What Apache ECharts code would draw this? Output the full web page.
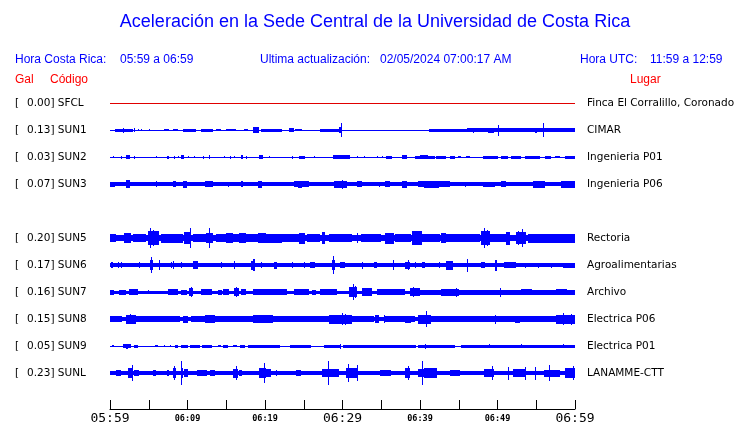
<!DOCTYPE html>
<html><head><meta charset="utf-8">
<script src="https://cdn.jsdelivr.net/npm/echarts@6/dist/echarts.min.js"></script>
<style>html,body{margin:0;padding:0;background:#fff}#c{width:740px;height:423px}</style>
</head><body><div id="c"></div>
<script>
// ---------- DATA ----------
const titleText = 'Aceleración en la Sede Central de la Universidad de Costa Rica';
const localLabel = 'Hora Costa Rica:';
const localRange = '05:59 a 06:59';
const updLabel = 'Ultima actualización:';
const updValue = '02/05/2024 07:00:17 AM';
const utcLabel = 'Hora UTC:';
const utcRange = '11:59 a 12:59';
const colGal = 'Gal', colCode = 'Código', colPlace = 'Lugar';

// minutes after 05:59 -> tick label
const tickMinutes = [0, 10, 20, 30, 40, 50, 60];
const tickLabels = ['05:59', '06:09', '06:19', '06:29', '06:39', '06:49', '06:59'];

const stations = ['SFCL', 'SUN1', 'SUN2', 'SUN3', 'SUN4', 'SUN5', 'SUN6', 'SUN7', 'SUN8', 'SUN9', 'SUNL'];
const gal = [0.00, 0.13, 0.03, 0.07, null, 0.20, 0.17, 0.16, 0.15, 0.05, 0.23];
const places = ['Finca El Corralillo, Coronado', 'CIMAR', 'Ingenieria P01', 'Ingenieria P06', null,
  'Rectoria', 'Agroalimentarias', 'Archivo', 'Electrica P06', 'Electrica P01', 'LANAMME-CTT'];
// background (noise) half-amplitude of each trace, display units
const baseAmp = [0.5, 0.5, 0.5, 2, null, 3, 2, 1.5, 2, 0.5, 2];

// bursts: [startMinute, endMinute, halfAmplitude]
const burstsSFCL = [];
const burstsSUN1 = [[0.6,3.0,1.5],[1.7,1.7,2.5],[3.1,3.1,2],[3.6,3.6,1],[4.0,4.0,1],[5.0,5.0,1],[7.0,7.6,1.2],[8.1,8.8,1.3],
  [9.4,11.1,1.5],[11.7,13.3,1.5],[13.7,14.3,1],[15.0,16.3,1.3],[17.3,17.8,1],[18.5,19.2,3],[19.5,22.2,1.5],[23.1,23.7,2],
  [23.9,24.8,1],[27.1,29.5,1.5],[29.5,29.9,3],[29.8,29.8,7],[41.2,46,1.5],[46,60,2],[46.8,46.8,2.5],[48.8,49.5,2.5],
  [50.0,50.0,5.5],[54.8,55.1,2.5],[55.9,55.9,7]];
const burstsSUN2 = [[0.4,0.4,1],[1.4,1.4,1.5],[2.1,2.6,2],[3.1,3.1,1.5],[5.9,5.9,1],[7.4,7.6,1.5],[8.3,8.3,1.5],[8.8,8.8,1],
  [9.2,9.6,2],[10.1,10.1,1],[10.8,10.8,1],[12.0,12.0,1.5],[12.8,12.8,2],[14.7,14.7,1],[15.5,15.5,1.5],[16.0,16.0,1],
  [16.9,17.2,2],[17.5,17.5,1.5],[19.2,19.7,2],[20.5,20.5,1],[23.5,23.5,1.5],[24.4,25.2,1.5],[26.3,26.3,1],[28.8,31.0,2],
  [31.9,31.9,1],[32.8,32.8,1],[34.5,34.5,1],[35.1,35.1,1],[35.6,36.4,1.5],[37.7,38.3,2],[39.4,41.9,1.5],[40.0,41.0,2],
  [42.1,43.4,1.5],[43.9,44.5,1.5],[44.9,45.3,1],[45.9,46.5,1],[48.1,50.1,1.5],[50.5,51.4,1.5],[51.7,53.0,1.5],
  [53.5,55.5,1.5],[56.1,56.9,1.5],[57.4,58.1,1],[58.7,60,1.5]];
const burstsSUN3 = [[0,0.6,2.5],[2.1,2.6,4],[5.9,5.9,3],[8.1,8.5,3],[9.4,9.9,3.5],[12.3,13.3,3],[15.2,15.2,2.5],[16.9,17.2,3],
  [19.1,19.6,3.5],[23.7,25.7,3],[24.2,24.8,3.5],[28.9,30.6,3.5],[29.9,29.9,4.5],[31.9,32.5,3],[34.7,34.7,2.5],
  [35.5,36.1,3],[37.7,38.3,3.5],[39.7,43.9,3],[40.5,42.5,3.5],[45.8,45.8,2.5],[48.1,49.7,2.5],[50.5,51.1,3],
  [54.6,56.1,3.5],[58.2,60,3.5]];
const burstsSUN4 = [];
const burstsSUN5 = [[0,0.8,4],[1.8,2.7,5],[3.0,4.6,4],[4.9,6.3,7],[5.1,5.1,10],[5.5,5.5,8],[6.6,9.4,4.5],[9.5,10.5,6],
  [10.3,10.3,10],[10.7,12.4,4],[12.4,13.3,5],[12.8,12.8,10],[13.7,20.1,4],[15.0,15.9,5],[16.6,17.5,5],[19.1,20.1,5],
  [19.6,22.2,4.5],[22.2,24.4,4],[24.4,25.2,5.5],[25.4,27.1,4],[27.4,27.7,6],[28.3,31.2,4],[31.9,31.9,5],[32.4,35.0,4],
  [35.5,36.6,5.5],[36.8,38.8,4],[39.0,40.3,7],[40.3,42.6,4],[42.7,43.4,5],[43.4,47.8,4],[47.9,49.0,7],[48.2,48.2,10],
  [48.6,48.6,8],[49.0,51.1,4],[51.1,51.6,6.5],[52.4,53.7,6],[52.6,52.6,7],[53.2,53.2,9],[53.9,60,4.5]];
const burstsSUN6 = [[0.1,0.4,3],[1.0,1.0,3],[1.4,1.4,3],[3.7,3.7,3],[5.2,5.5,5],[5.3,5.3,8],[6.3,6.3,5],[7.9,7.9,3],
  [8.1,8.3,4],[9.2,9.2,3],[10.7,11.4,4],[14.3,14.3,3],[16.0,16.0,4],[18.2,18.7,4.5],[18.4,18.4,6],[18.6,18.6,6],
  [19.5,19.5,3],[21.2,21.5,3.5],[23.5,23.5,3],[25.0,25.0,3],[25.8,26.5,3],[28.6,29.0,5],[28.8,28.8,9],[29.7,30.3,3],
  [32.5,32.5,3.5],[34.0,34.4,3],[36.5,36.5,5],[38.1,38.7,3.5],[38.4,38.4,5],[39.4,39.4,3],[40.2,40.6,3],[42.4,42.4,3],
  [43.4,44.3,4.5],[46.1,46.1,6.5],[47.9,48.4,3],[49.7,49.9,5.5],[50.9,52.4,3],[53.5,53.5,2.5],[55.2,55.2,2.5],
  [56.9,56.9,2.5],[58.5,60,2.5]];
const burstsSUN7 = [[0,0.5,2.5],[1.2,2.1,2.5],[2.5,3.6,3],[4.9,4.9,2],[7.5,8.8,3],[9.2,9.9,2.5],[10.2,10.7,4],[10.5,10.5,5],
  [11.8,13.2,3],[13.9,14.4,2.5],[14.6,15.4,3],[16.0,16.6,4],[16.3,16.3,5],[16.9,17.6,3],[18.4,22.8,3],[23.7,25.7,3],
  [26.0,26.6,2.5],[27.1,29.3,3],[30.8,31.9,5],[31.3,31.3,8],[31.6,31.6,6],[32.5,33.8,4],[34.4,38.1,3],[38.7,40.0,4],
  [39.1,39.1,5],[40.0,60,2.5],[42.7,45.0,3.5],[44.6,44.6,4.5],[50.3,50.3,4.5],[53.0,54.5,3],[57.5,59.0,3]];
const burstsSUN8 = [[0,1.5,3],[2.1,3.4,4.5],[2.6,2.6,5],[3.4,9.0,3],[9.4,10.1,3.5],[10.5,12.2,3],[12.3,13.6,4],[13.6,18.4,3],
  [18.5,21.0,4],[21,28.3,3],[28.3,31.2,4.5],[29.9,29.9,6],[30.3,30.3,5.5],[31.2,34,3],[34.2,34.7,4],[35.3,35.3,4],
  [35.5,39.4,3],[38.1,38.9,3.5],[39.7,41.4,4.5],[40.8,40.8,8],[41.4,57.6,3],[49.7,49.7,4.5],[52.2,52.9,3.5],
  [57.6,60,4.5],[58.5,58.5,6],[59.5,59.5,5.5]];
const burstsSUN9 = [[0.3,0.5,1],[1.7,2.7,2],[2.0,2.3,2.5],[3.1,3.6,1.5],[5.8,6.2,1],[7.0,7.0,1],[7.7,7.7,1],[8.4,8.8,1.5],
  [9.2,10.0,1.5],[10.3,11.6,1.5],[11.9,13.2,1.5],[13.9,14.3,1],[14.6,15.2,1.5],[15.9,16.4,1],[16.8,17.4,1.5],
  [17.8,19.6,1.5],[19.6,21.9,1.5],[23.2,25.9,1.5],[27.6,29.7,1.5],[29.7,29.7,2.5],[30.0,39.5,1.5],[39.7,44.5,1.5],
  [40.6,40.6,2.5],[45.3,60,1.5],[48.9,48.9,2],[53.0,53.0,2],[58.5,58.5,2]];
const burstsSUNL = [[0.8,1.4,3],[2.3,3.0,5],[2.8,2.8,8],[3.1,3.8,3],[5.6,5.9,3],[7.3,7.6,3],[8.1,8.5,5],[8.3,8.3,7],
  [9.2,9.4,5],[9.2,9.2,12],[9.5,10.0,4],[11.2,12.5,3],[12.9,13.6,3],[15.9,16.5,4.5],[16.3,16.3,7],[16.6,17.0,3],
  [19.2,20.1,5],[19.9,19.9,10],[20.0,20.8,4],[21.4,21.4,3],[24,24.6,3],[27.4,29.5,4],[28.1,28.1,12],[30.5,32,5],
  [30.7,30.7,9],[31.9,31.9,8],[34.9,36.2,3],[38.1,38.7,5],[38.4,38.4,7],[39.7,40.5,4],[40.2,40.2,12],[40.5,42.2,5],
  [43.9,45.2,3],[48.2,49.5,4],[49.3,49.3,7],[51.4,51.4,6.5],[52.0,53.7,4],[53.6,53.6,6.5],[54.9,54.9,6.5],
  [56.0,58,3.5],[56.6,56.6,8],[58.7,60,5],[59.8,59.8,7]];
const bursts = [burstsSFCL, burstsSUN1, burstsSUN2, burstsSUN3, burstsSUN4, burstsSUN5,
  burstsSUN6, burstsSUN7, burstsSUN8, burstsSUN9, burstsSUNL];

// ---------- LAYOUT / STYLE ----------
const ROW = 27;                 // display units between traces
const BLUE = '#0000ff', RED = '#ff0000', TRACE_RED = '#e00000';
const traceColor = name => name === 'SFCL' ? TRACE_RED : BLUE;
const sansFont = 'Liberation Sans, Arial, sans-serif';
const labelFont = 'DejaVu Sans, sans-serif';
const monoFont = 'DejaVu Sans Mono, monospace';

const chart = echarts.init(document.getElementById('c'), null, {renderer: 'canvas'});

function renderItem(params, api) {
  const t0 = api.value(0), t1 = api.value(1), a = api.value(2), slot = api.value(3);
  const c = slot * ROW;
  const p0 = api.coord([t0, c - a]);
  const p1 = api.coord([t1, c + a]);
  const x = Math.round(p0[0]);
  const x2 = Math.max(Math.round(p1[0]), x + 1);
  const y = Math.round(p0[1]);
  const y2 = Math.max(Math.round(p1[1]), y + 1);
  return {type: 'rect', shape: {x: x, y: y, width: x2 - x, height: y2 - y},
    style: {fill: api.visual('color')}};
}

const series = [];
stations.forEach((name, i) => {
  if (baseAmp[i] === null) return;
  const data = [[0, 60, baseAmp[i], i]].concat(bursts[i].map(b => [b[0], b[1], b[2], i]));
  series.push({
    type: 'custom', name: name, renderItem: renderItem, data: data,
    dimensions: ['t0', 't1', 'amp', 'slot'], encode: {x: [0, 1], y: 3},
    itemStyle: {color: traceColor(name)}, clip: false, silent: true, animation: false
  });
});

chart.setOption({
  animation: false,
  grid: {left: 110, right: 165, top: 76, bottom: 14, containLabel: false, outerBoundsMode: 'none'},
  xAxis: {
    type: 'value', min: 0, max: 60, interval: 5,
    axisLine: {show: true, onZero: false, lineStyle: {color: '#000', width: 1}},
    axisTick: {show: true, inside: true, length: 9, lineStyle: {color: '#000', width: 1}},
    splitLine: {show: false},
    axisLabel: {
      margin: 3, showMinLabel: true, showMaxLabel: true, hideOverlap: false,
      formatter: v => {
        const k = tickMinutes.indexOf(v);
        if (k < 0) return '';
        return (v % 30 === 0 ? '{big|' : '{small|') + tickLabels[k] + '}';
      },
      rich: {
        big: {fontFamily: monoFont, fontSize: 13, color: '#000', lineHeight: 14},
        small: {fontFamily: monoFont, fontSize: 8.5, fontWeight: 'bold', color: '#000', lineHeight: 13}
      }
    }
  },
  yAxis: {type: 'value', min: -ROW, max: 306, inverse: true, show: false},
  series: series
});

// texts
const g = [];
function txt(x, y, text, opt) {
  g.push({type: 'text', x: x, y: y, silent: true,
    style: Object.assign({text: text, fill: '#000', font: '11px ' + labelFont,
      textAlign: 'left', textVerticalAlign: 'middle'}, opt || {})});
}
txt(375, 22, titleText, {fill: BLUE, font: '18px ' + sansFont, textAlign: 'center'});
const hdr = {fill: BLUE, font: '12px ' + sansFont};
txt(15, 60, localLabel, hdr);
txt(120, 60, localRange, hdr);
txt(260, 60, updLabel, hdr);
txt(380, 60, updValue, hdr);
txt(580, 60, utcLabel, hdr);
txt(650, 60, utcRange, hdr);
const red = {fill: RED, font: '12px ' + sansFont};
txt(15, 80, colGal, red);
txt(50, 80, colCode, red);
txt(630, 80, colPlace, red);
stations.forEach((name, i) => {
  if (gal[i] === null) return;
  const py = chart.convertToPixel({gridIndex: 0}, [0, i * ROW])[1];
  const f = {font: '10.5px ' + labelFont};
  txt(15, py, '[', f);
  txt(27, py, gal[i].toFixed(2) + '] ' + name, f);
  txt(587, py, places[i], f);
});
chart.setOption({graphic: g});
</script></body></html>
